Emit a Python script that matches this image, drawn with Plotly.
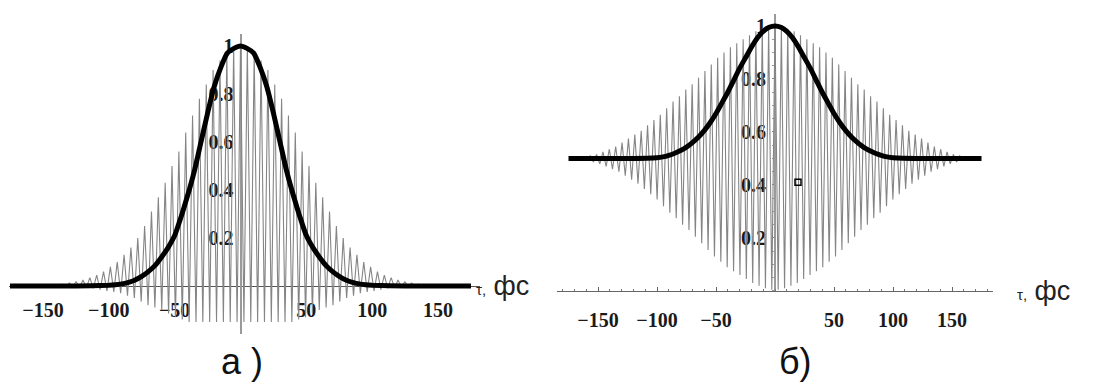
import plotly.graph_objects as go

W, H = 1094, 387

# ---------------- data ----------------
# panel а : fringe period (fs), fringe upper tips (k = 0..33), lower tips (k+0.5 = 0.5..32.5)
period_a = 5.2
upper_a = [1.0, 0.995, 0.97, 0.94, 0.90, 0.84, 0.78, 0.71, 0.64, 0.56, 0.50, 0.43,
           0.37, 0.31, 0.25, 0.20, 0.16, 0.13, 0.10, 0.08, 0.06, 0.045, 0.035, 0.025,
           0.018, 0.012, 0.008, 0.005, 0.003, 0.002, 0.001, 0.0, 0.0, 0.0]
lower_a = [-0.15, -0.15, -0.15, -0.15, -0.15, -0.15, -0.15, -0.15, -0.14, -0.13,
           -0.115, -0.10, -0.09, -0.08, -0.065, -0.05, -0.04, -0.03, -0.025, -0.02,
           -0.015, -0.01, -0.007, -0.005, -0.003, -0.002, -0.001, 0.0, 0.0, 0.0,
           0.0, 0.0, 0.0]

# panel б
period_b = 5.4
upper_b = [1.0, 0.995, 0.99, 0.98, 0.965, 0.95, 0.935, 0.92, 0.90, 0.88, 0.855, 0.83,
           0.805, 0.78, 0.76, 0.735, 0.715, 0.69, 0.665, 0.645, 0.625, 0.605, 0.59,
           0.575, 0.56, 0.545, 0.535, 0.525, 0.515, 0.51, 0.505, 0.502, 0.5]
lower_b = [0.005, 0.01, 0.02, 0.03, 0.045, 0.06, 0.075, 0.09, 0.11, 0.13, 0.155, 0.18,
           0.205, 0.23, 0.25, 0.275, 0.295, 0.32, 0.345, 0.365, 0.385, 0.405, 0.42,
           0.435, 0.45, 0.46, 0.47, 0.48, 0.487, 0.493, 0.497, 0.499]

# smooth envelopes (thick black curves), read at |t| = 0, 5, ..., 100 fs and 125, 150, 175 fs
env_abs_t = [0, 5, 10, 15, 20, 25, 30, 35, 40, 45, 50, 55, 60, 65, 70, 75, 80, 85, 90,
             95, 100, 125, 150, 175]
env_a_half = [1.0, 0.99, 0.97, 0.91, 0.83, 0.72, 0.60, 0.48, 0.38, 0.29, 0.21, 0.16,
              0.12, 0.085, 0.06, 0.04, 0.025, 0.015, 0.009, 0.005, 0.003, 0.0, 0.0, 0.0]
env_b_half = [1.0, 0.995, 0.98, 0.955, 0.92, 0.88, 0.84, 0.795, 0.75, 0.71, 0.67, 0.635,
              0.605, 0.58, 0.56, 0.543, 0.53, 0.52, 0.512, 0.506, 0.503, 0.5, 0.5, 0.5]

# small hollow square seen in panel б
mark_t = [19.5]
mark_y = [0.41]

x_tickvals = [-150, -100, -50, 50, 100, 150]
x_ticktext = ["\u2212150", "\u2212100", "\u221250", "50", "100", "150"]
y_tickvals = [0.2, 0.4, 0.6, 0.8, 1.0]
y_ticktext = ["0.2", "0.4", "0.6", "0.8", "1"]
axis_title = "<span style='font-size:15px'>\u03c4,</span> \u0444\u0441"
panel_labels = ["\u0430 )", "\u0431)"]


def fringes(period, upper, lower):
    xs, ys = [], []
    n = len(upper) - 1
    for k in range(-n, n + 1):
        xs.append(k * period)
        ys.append(upper[abs(k)])
        if k < n:
            xs.append((k + 0.5) * period)
            ys.append(lower[k if k >= 0 else -k - 1])
    return xs, ys


def mirrored(abs_t, half):
    t = [-v for v in abs_t[::-1]] + abs_t[1:]
    y = half[::-1] + half[1:]
    return t, y


fxa, fya = fringes(period_a, upper_a, lower_a)
fxb, fyb = fringes(period_b, upper_b, lower_b)
eta, eya = mirrored(env_abs_t, env_a_half)
etb, eyb = mirrored(env_abs_t, env_b_half)

# ---------------- layout geometry (pixels) ----------------
# panel а: zero at x=240.5px, 1.317 px/fs ; y zero at 286px, 240 px/unit
xr_a = [-176, 182]
yr_a = [-0.2, 1.05]
xa_px = [240.5 + xr_a[0] * 1.317, 240.5 + xr_a[1] * 1.317]
ya_px = [286 - yr_a[0] * 240, 286 - yr_a[1] * 240]
# panel б: zero at x=775px, 1.18 px/fs ; y zero at 291px, 265 px/unit
xr_b = [-185, 185]
yr_b = [0, 1.045]
xb_px = [775 + xr_b[0] * 1.18, 775 + xr_b[1] * 1.18]
yb_px = [291 - yr_b[0] * 265, 291 - yr_b[1] * 265]

dom_xa = [xa_px[0] / W, xa_px[1] / W]
dom_ya = [1 - ya_px[0] / H, 1 - ya_px[1] / H]
dom_xb = [xb_px[0] / W, xb_px[1] / W]
dom_yb = [1 - yb_px[0] / H, 1 - yb_px[1] / H]


def zero_pos(rng, dom):
    return dom[0] + (0 - rng[0]) / (rng[1] - rng[0]) * (dom[1] - dom[0])


tickfont = dict(family="Liberation Serif", size=20, color="#1a1a1a", weight="bold")

fig = go.Figure()
fig.add_trace(go.Scatter(x=fxa, y=fya, mode="lines", line=dict(color="#858585", width=1.1),
                         xaxis="x", yaxis="y", hoverinfo="skip"))
fig.add_trace(go.Scatter(x=eta, y=eya, mode="lines",
                         line=dict(color="black", width=5, shape="spline", smoothing=0.6),
                         xaxis="x", yaxis="y"))
fig.add_trace(go.Scatter(x=fxb, y=fyb, mode="lines", line=dict(color="#858585", width=1.1),
                         xaxis="x2", yaxis="y2", hoverinfo="skip"))
fig.add_trace(go.Scatter(x=etb, y=eyb, mode="lines",
                         line=dict(color="black", width=5, shape="spline", smoothing=0.6),
                         xaxis="x2", yaxis="y2"))
fig.add_trace(go.Scatter(x=mark_t, y=mark_y, mode="markers",
                         marker=dict(symbol="square-open", size=6, color="black",
                                     line=dict(width=1.5)),
                         xaxis="x2", yaxis="y2"))

common_x = dict(showgrid=False, zeroline=False, showline=True, tickmode="array",
                tickvals=x_tickvals, ticktext=x_ticktext, tickfont=tickfont,
                layer="below traces")
common_y = dict(showgrid=False, zeroline=False, showline=True, tickmode="array",
                tickvals=y_tickvals, ticktext=y_ticktext, tickfont=tickfont,
                layer="below traces", side="left")

fig.update_layout(
    width=W, height=H, margin=dict(l=0, r=0, t=0, b=0),
    paper_bgcolor="white", plot_bgcolor="rgba(0,0,0,0)", showlegend=False,
    xaxis=dict(common_x, domain=dom_xa, range=xr_a, anchor="free",
               position=zero_pos(yr_a, dom_ya), linecolor="#555", linewidth=1,
               ticks="", ticklabelstandoff=6),
    yaxis=dict(common_y, domain=dom_ya, range=yr_a, anchor="free",
               position=zero_pos(xr_a, dom_xa), linecolor="#9a9a9a", linewidth=2,
               ticks="", ticklabelstandoff=2),
    xaxis2=dict(common_x, domain=dom_xb, range=xr_b, anchor="free",
                position=zero_pos(yr_b, dom_yb), linecolor="#666", linewidth=1,
                ticks="inside", ticklen=4, tickcolor="#666",
                minor=dict(ticks="inside", ticklen=2, dtick=10, tickcolor="#777"),
                ticklabelstandoff=11),
    yaxis2=dict(common_y, domain=dom_yb, range=yr_b, anchor="free",
                position=zero_pos(xr_b, dom_xb), linecolor="#9a9a9a", linewidth=2,
                ticks="outside", ticklen=2, tickcolor="#888",
                minor=dict(ticks="outside", ticklen=2, dtick=0.05, tickcolor="#999"),
                ticklabelstandoff=2),
)

title_font = dict(family="Liberation Sans", size=27, color="#222")
fig.add_annotation(x=xr_a[1], y=0, xref="x", yref="y", text=axis_title, showarrow=False,
                   xanchor="left", yanchor="middle", xshift=-6, font=title_font)
fig.add_annotation(x=xr_b[1], y=0, xref="x2", yref="y2", text=axis_title, showarrow=False,
                   xanchor="left", yanchor="middle", xshift=22, font=title_font)

label_font = dict(family="Liberation Sans", size=36, color="#111")
fig.add_annotation(x=242 / W, y=1 - 361 / H, xref="paper", yref="paper", text=panel_labels[0],
                   showarrow=False, xanchor="center", yanchor="middle", font=label_font)
fig.add_annotation(x=795 / W, y=1 - 361 / H, xref="paper", yref="paper", text=panel_labels[1],
                   showarrow=False, xanchor="center", yanchor="middle", font=label_font)

fig.write_html("out.html", config={"displayModeBar": False},
               post_script="document.body.style.margin='0';")
